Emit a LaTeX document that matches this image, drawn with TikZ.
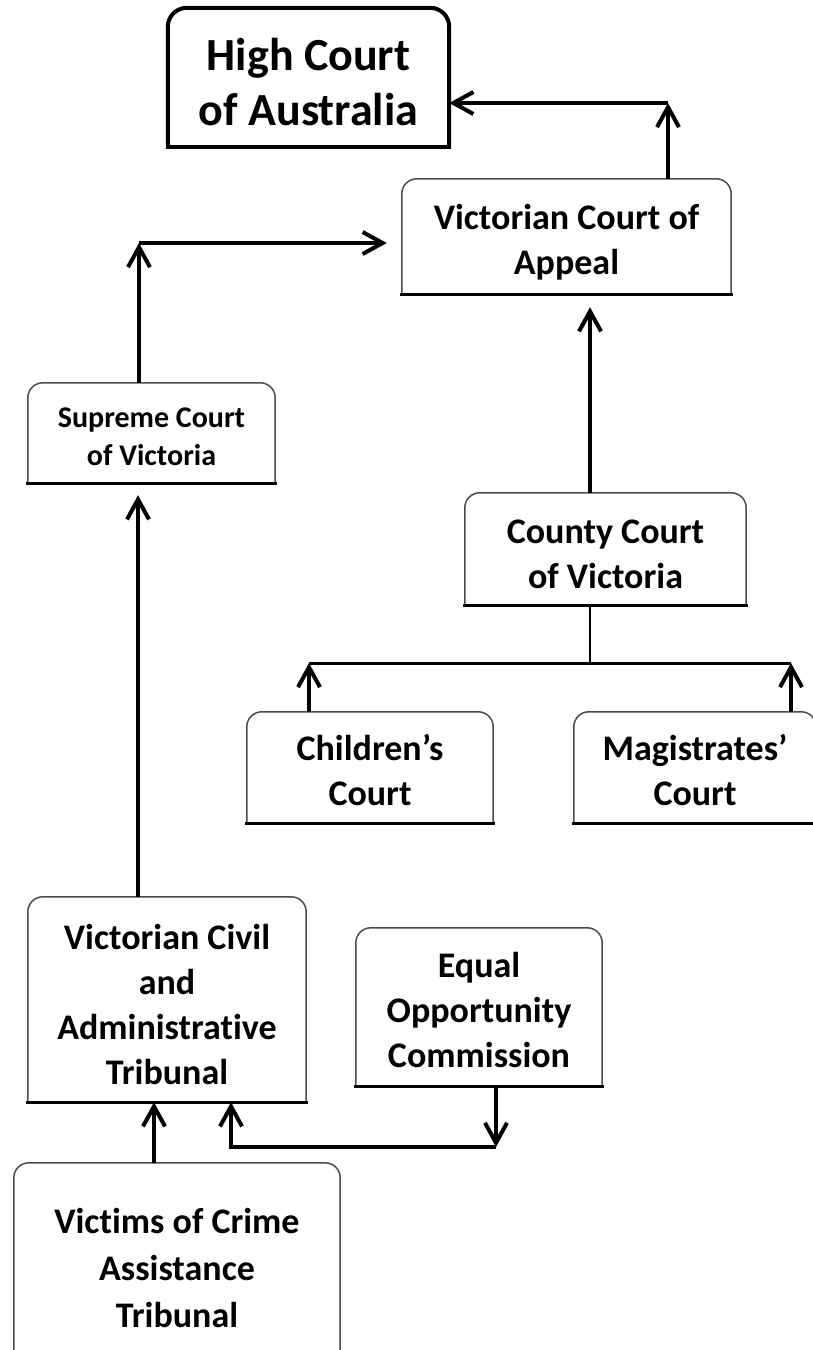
\documentclass[tikz,border=0pt]{standalone}
\usepackage{fontspec}
\setmainfont{Carlito}[Ligatures=NoCommon]
\usetikzlibrary{arrows.meta}
\newcommand\topbox[3]{% #1 frame style, #2 bottom style, #3 node name
  \draw[#1] (#3.south west) -- (#3.north west) -- (#3.north east) -- (#3.south east);
  \draw[#2] (#3.south west) -- (#3.south east);}
\begin{document}
\begin{tikzpicture}[x=1pt,y=-1pt,
  shp/.style={inner sep=0pt},
  txt/.style={inner sep=0pt, align=center, font=\bfseries\fontsize{36}{45}\selectfont},
  frm/.style={line width=1.5pt, draw=black!70, rounded corners=15pt},
  frmbot/.style={line width=3pt, draw=black, line cap=rect},
  hcfrm/.style={line width=4pt, draw=black, rounded corners=19pt},
  hcbot/.style={line width=4pt, draw=black, line cap=rect},
  arr/.style={line width=4pt, -{Straight Barb[length=20pt,width=22pt,line width=4pt]}},
  thinln/.style={line width=1.3pt},
  busln/.style={line width=3pt}]
\useasboundingbox[fill=white] (0,0) rectangle (813,1350);

% box shapes
\node[shp, minimum width=281pt, minimum height=139pt] (hc) at (308.5,77.5) {};
\node[shp, minimum width=329pt, minimum height=115pt] (vca) at (566.5,236.5) {};
\node[shp, minimum width=247pt, minimum height=100pt] (sup) at (151.5,433) {};
\node[shp, minimum width=281pt, minimum height=112pt] (cty) at (605.5,549) {};
\node[shp, minimum width=246pt, minimum height=111pt] (chi) at (370,767.5) {};
\node[shp, minimum width=242pt, minimum height=111pt] (mag) at (695,767.5) {};
\node[shp, minimum width=278pt, minimum height=205pt] (vcat) at (167,999.5) {};
\node[shp, minimum width=246pt, minimum height=158pt] (eoc) at (479,1007) {};
\node[shp, minimum width=326pt, minimum height=209pt] (vic) at (177,1267.5) {};

% texts
\node[txt, font=\bfseries\fontsize{46}{55}\selectfont] (hct) at ([yshift=-5pt]hc.center) {High Court\\of Australia};
\node[txt] (vcat1) at ([yshift=-6pt]vca.center) {Victorian Court of\\Appeal};
\node[txt, font=\bfseries\fontsize{30}{38}\selectfont] (supt) at ([yshift=-4pt]sup.center) {Supreme Court\\of Victoria};
\node[txt] (ctyt) at ([yshift=-5pt]cty.center) {County Court\\of Victoria};
\node[txt] (chit) at ([yshift=-3pt]chi.center) {Children’s\\Court};
\node[txt] (magt) at ([yshift=-3pt]mag.center) {Magistrates’\\Court};
\node[txt] (vcatt) at ([yshift=-5pt]vcat.center) {Victorian Civil\\and\\Administrative\\Tribunal};
\node[txt] (eoct) at ([yshift=-3pt]eoc.center) {Equal\\Opportunity\\Commission};
\node[txt, font=\bfseries\fontsize{36}{47}\selectfont] (vict) at (vic.center) {Victims of Crime\\Assistance\\Tribunal};

% frames
\topbox{hcfrm}{hcbot}{hc}
\foreach \n in {vca,sup,cty,chi,mag,vcat,eoc,vic}{\topbox{frm}{frmbot}{\n}}

% helper coordinates
\coordinate (c1) at (668,103);
\coordinate (c2) at (139,243);
\coordinate (x590) at (590,0);
\coordinate (x138) at (138,0);
\coordinate (x154) at (154,0);
\coordinate (h1) at (309,663);
\coordinate (h2) at (791,663);
\coordinate (c3) at (496,1147);
\coordinate (c4) at (231,1147);

% connectors
\draw[arr] (vca.north -| c1) -- (c1);
\draw[arr] (c1) -- (c1 -| hc.east);
\draw[arr] (sup.north -| c2) -- (c2);
\draw[arr, shorten >=15pt] (c2) -- (c2 -| vca.west);
\draw[arr, shorten >=13pt] (cty.north -| x590) -- (vca.south -| x590);
\draw[thinln] (cty.south -| x590) -- (h1 -| x590);
\draw[busln] (h1) -- (h2);
\draw[arr] (chi.north -| h1) -- (h1);
\draw[arr] (mag.north -| h2) -- (h2);
\draw[arr, shorten >=12pt] (vcat.north -| x138) -- (sup.south -| x138);
\draw[arr] (vic.north -| x154) -- (vcat.south -| x154);
\draw[arr] (eoc.south -| c3) -- (c3);
\draw[arr] (c3) -- (c4) -- (vcat.south -| c4);
\end{tikzpicture}
\end{document}
